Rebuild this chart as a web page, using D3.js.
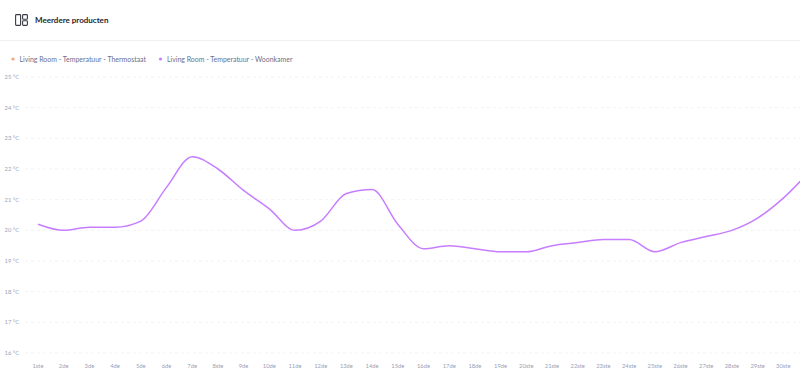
<!DOCTYPE html>
<html>
<head>
<meta charset="utf-8">
<script src="https://cdn.jsdelivr.net/npm/d3@7"></script>
<style>
html, body { margin: 0; padding: 0; background: #fff; overflow: hidden; }
svg { display: block; font-family: Lato, sans-serif; }
.tick-label { font-size: 5.8px; fill: #9a9fb8; }
.legend-label { font-size: 6.95px; fill: #6a6f8c; }
.title { font-size: 8px; font-weight: 700; fill: #24262f; }
</style>
</head>
<body>
<svg id="chart" width="800" height="373"></svg>
<script>
// Data
const title = "Meerdere producten";
const seriesNames = ["Living Room - Temperatuur - Thermostaat", "Living Room - Temperatuur - Woonkamer"];
const seriesColors = ["#f5a27a", "#c77dff"];
const days = ["1ste","2de","3de","4de","5de","6de","7de","8ste","9de","10de","11de","12de","13de","14de","15de","16de","17de","18de","19de","20ste","21ste","22ste","23ste","24ste","25ste","26ste","27ste","28ste","29ste","30ste","31ste"];
const woonkamer = [20.2,20.0,20.1,20.1,20.3,21.4,22.4,22.0,21.3,20.7,20.0,20.3,21.2,21.33,20.2,19.4,19.5,19.4,19.3,19.3,19.5,19.6,19.7,19.7,19.3,19.6,19.8,20.0,20.4,21.05,21.9];
const yTicks = [16,17,18,19,20,21,22,23,24,25];

const svg = d3.select("#chart");

// Scales
const xScale = d3.scalePoint().domain(days).range([38, 809]);
const yScale = d3.scaleLinear().domain([16, 25]).range([353, 77]);

// Header
svg.append("line")
    .attr("x1", 0).attr("x2", 800).attr("y1", 40.5).attr("y2", 40.5)
    .attr("stroke", "#f0f0f3");

const icon = svg.append("g")
    .attr("fill", "none")
    .attr("stroke", "#3a3c46")
    .attr("stroke-width", 1.1);
icon.append("rect").attr("x", 15.6).attr("y", 14.6).attr("width", 5).attr("height", 10.8).attr("rx", 0.8);
icon.append("rect").attr("x", 22.6).attr("y", 14.6).attr("width", 4.8).attr("height", 4.6).attr("rx", 0.8);
icon.append("rect").attr("x", 22.6).attr("y", 20.8).attr("width", 4.8).attr("height", 4.6).attr("rx", 0.8);

svg.append("text")
    .attr("class", "title")
    .attr("x", 35)
    .attr("y", 22.8)
    .text(title);

// Legend
const legendX = [13, 160.5];
seriesNames.forEach((name, i) => {
    svg.append("circle")
        .attr("cx", legendX[i])
        .attr("cy", 59)
        .attr("r", 1.6)
        .attr("fill", seriesColors[i]);
    svg.append("text")
        .attr("class", "legend-label")
        .attr("x", legendX[i] + 6.5)
        .attr("y", 62)
        .text(name);
});

// Grid and y labels
svg.selectAll(".grid")
    .data(yTicks)
    .enter()
    .append("line")
    .attr("class", "grid")
    .attr("x1", 25)
    .attr("x2", 800)
    .attr("y1", d => yScale(d))
    .attr("y2", d => yScale(d))
    .attr("stroke", "#f3f3f6")
    .attr("stroke-dasharray", "3 3");

svg.selectAll(".y-label")
    .data(yTicks)
    .enter()
    .append("text")
    .attr("class", "tick-label y-label")
    .attr("x", 19)
    .attr("y", d => yScale(d) + 2)
    .attr("text-anchor", "end")
    .text(d => d + " °C");

// X labels, the 31st falls outside the window so it gets none
svg.selectAll(".x-label")
    .data(days.slice(0, 30))
    .enter()
    .append("text")
    .attr("class", "tick-label x-label")
    .attr("x", d => xScale(d))
    .attr("y", 368)
    .attr("text-anchor", "middle")
    .text(d => d);

// Line
const line = d3.line()
    .x((d, i) => xScale(days[i]))
    .y(d => yScale(d))
    .curve(d3.curveMonotoneX);

svg.append("path")
    .datum(woonkamer)
    .attr("fill", "none")
    .attr("stroke", seriesColors[1])
    .attr("stroke-width", 1.5)
    .attr("d", line);
</script>
</body>
</html>
